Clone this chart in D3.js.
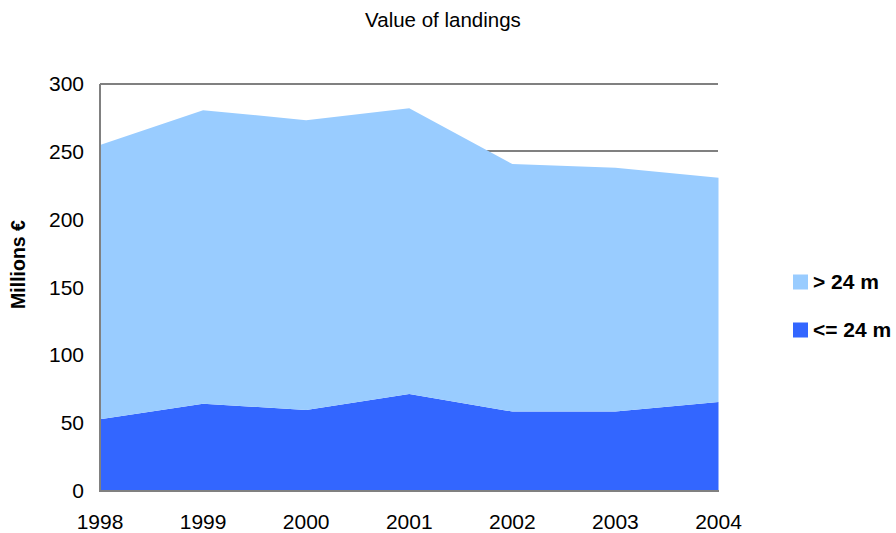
<!DOCTYPE html>
<html>
  <head>
    <meta charset="utf-8">
    <title>Value of landings</title>
    <style>
      body { margin: 0px; overflow: hidden; background: white; }
      svg text { font-family: "Liberation Sans", Arial, sans-serif; fill: black; }
      .grid line { stroke: #808080; stroke-width: 2px; shape-rendering: crispEdges; }
      .axis-line { stroke: #808080; stroke-width: 2px; shape-rendering: crispEdges; }
    </style>
  </head>
  <body>
    <svg id="container" width="896" height="533"></svg>
    <script src="https://cdn.jsdelivr.net/npm/d3@7"></script>
    <script type="text/javascript">
      // data
      var years = ['1998', '1999', '2000', '2001', '2002', '2003', '2004'];
      var small = [52.6, 64, 59.4, 71.2, 58.2, 58.2, 65.3];        // <= 24 m
      var large = [202, 216.3, 213.6, 210.6, 182.4, 179.7, 165.2]; // > 24 m
      var yTicks = [0, 50, 100, 150, 200, 250, 300];
      var seriesNames = ['> 24 m', '<= 24 m'];
      var seriesColors = ['#99ccff', '#3366ff'];

      var svg = d3.select('#container'),
        plotLeft = 100, plotRight = 718.5, plotTop = 83.5, plotBottom = 490.5;

      var x = d3.scalePoint().domain(years).range([plotLeft, plotRight]);
      var y = d3.scaleLinear().domain([0, 300]).range([plotBottom, plotTop]);

      var rows = years.map(function (yr, i) { return { year: yr, small: small[i], large: large[i] }; });
      var stack = d3.stack().keys(['small', 'large'])(rows);

      // gridlines (behind the areas)
      svg.append('g').attr('class', 'grid')
        .selectAll('line').data(yTicks.slice(1)).enter().append('line')
        .attr('x1', plotLeft).attr('x2', plotRight - 0.5)
        .attr('y1', function (d) { return y(d); }).attr('y2', function (d) { return y(d); });

      var area = d3.area()
        .x(function (d) { return x(d.data.year); })
        .y0(function (d) { return y(d[0]); })
        .y1(function (d) { return y(d[1]); });

      svg.selectAll('path.layer').data(stack).enter().append('path')
        .attr('class', 'layer')
        .attr('fill', function (d) { return d.key === 'small' ? seriesColors[1] : seriesColors[0]; })
        .attr('d', area);

      // axes
      svg.append('line').attr('class', 'axis-line')
        .attr('x1', plotLeft).attr('x2', plotLeft).attr('y1', plotTop).attr('y2', plotBottom);
      svg.append('line').attr('class', 'axis-line')
        .attr('x1', plotLeft - 1).attr('x2', plotRight).attr('y1', plotBottom).attr('y2', plotBottom);

      svg.append('g').selectAll('text').data(yTicks).enter().append('text')
        .attr('x', 84).attr('y', function (d) { return y(d); })
        .attr('dy', '0.36em')
        .attr('text-anchor', 'end')
        .style('font-size', '21px')
        .text(function (d) { return d; });

      svg.append('g').selectAll('text').data(years).enter().append('text')
        .attr('x', function (d) { return x(d); }).attr('y', 529)
        .attr('text-anchor', 'middle')
        .style('font-size', '21px')
        .text(function (d) { return d; });

      // title
      svg.append('text')
        .attr('x', 443).attr('y', 27)
        .attr('text-anchor', 'middle')
        .style('font-size', '20.5px')
        .text('Value of landings');

      // y label
      svg.append('text')
        .attr('transform', 'translate(25,264.5) rotate(-90)')
        .attr('text-anchor', 'middle')
        .style('font-size', '19.5px')
        .style('font-weight', 'bold')
        .text('Millions €');

      // legend
      var legend = svg.append('g').selectAll('g').data(seriesNames).enter().append('g')
        .attr('transform', function (d, i) { return 'translate(793,' + (274.5 + i * 48) + ')'; });
      legend.append('rect').attr('width', 15).attr('height', 15)
        .attr('fill', function (d, i) { return seriesColors[i]; });
      legend.append('text').attr('x', 20).attr('y', 14.5)
        .style('font-size', '21px').style('font-weight', 'bold')
        .text(function (d) { return d; });
    </script>
  </body>
</html>
